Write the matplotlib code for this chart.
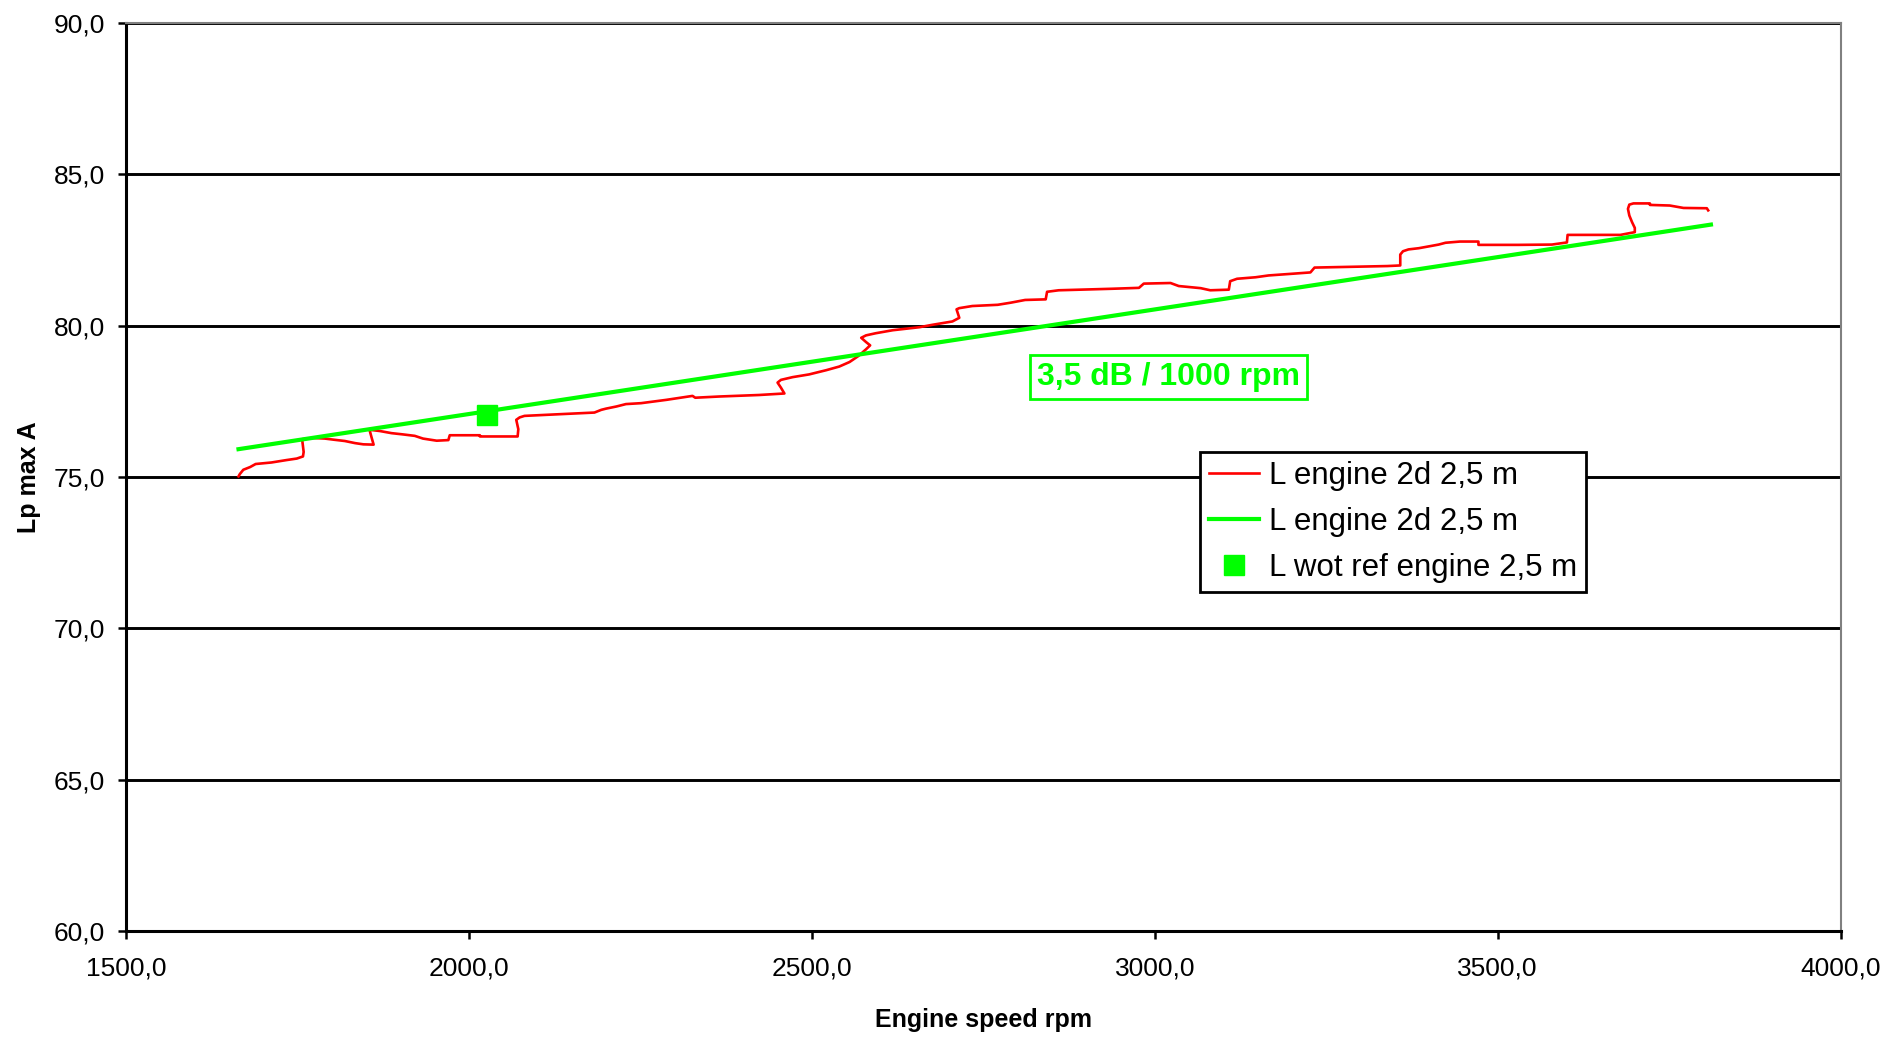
import matplotlib.pyplot as plt
from matplotlib.ticker import FuncFormatter, MultipleLocator

plt.rcParams['font.family'] = ['Liberation Sans', 'DejaVu Sans']

# measured level vs engine speed (red trace, drawn in recorded order)
red_rpm = [1664, 1666, 1671, 1681, 1689, 1712, 1734, 1749, 1758, 1759, 1757, 1757,
           1773, 1790, 1804, 1819, 1834, 1846, 1861, 1858, 1855, 1870, 1887, 1903,
           1921, 1933, 1953, 1970, 1972, 2016, 2016, 2071, 2072, 2069, 2074, 2081,
           2127, 2183, 2193, 2200, 2215, 2229, 2251, 2288, 2326, 2330, 2365, 2423,
           2460, 2455, 2450, 2455, 2472, 2496, 2521, 2540, 2555, 2568, 2579, 2585,
           2579, 2572, 2579, 2593, 2618, 2657, 2676, 2705, 2715, 2711, 2715, 2734,
           2771, 2790, 2811, 2841, 2843, 2860, 2938, 2977, 2984, 3023, 3035, 3067,
           3081, 3108, 3110, 3120, 3147, 3166, 3203, 3227, 3233, 3339, 3358, 3358,
           3362, 3370, 3385, 3402, 3414, 3424, 3445, 3472, 3472, 3530, 3579, 3601,
           3602, 3628, 3679, 3700, 3700, 3696, 3692, 3690, 3692, 3698, 3722, 3722,
           3751, 3771, 3805, 3807]
red_lp = [75.02, 75.10, 75.24, 75.33, 75.43, 75.48, 75.56, 75.61, 75.68, 75.83, 76.20, 76.25,
          76.29, 76.27, 76.23, 76.19, 76.12, 76.08, 76.07, 76.31, 76.56, 76.52, 76.45, 76.41,
          76.36, 76.27, 76.20, 76.22, 76.38, 76.38, 76.34, 76.34, 76.58, 76.89, 76.97, 77.02,
          77.07, 77.13, 77.22, 77.26, 77.33, 77.41, 77.44, 77.55, 77.68, 77.62, 77.66, 77.71,
          77.76, 77.95, 78.12, 78.21, 78.30, 78.39, 78.53, 78.65, 78.80, 79.00, 79.22, 79.35,
          79.46, 79.60, 79.68, 79.75, 79.85, 79.95, 80.03, 80.14, 80.26, 80.54, 80.58, 80.65,
          80.69, 80.76, 80.85, 80.87, 81.12, 81.17, 81.22, 81.25, 81.39, 81.41, 81.31, 81.24,
          81.17, 81.19, 81.47, 81.55, 81.60, 81.66, 81.72, 81.76, 81.92, 81.97, 81.99, 82.35,
          82.46, 82.52, 82.56, 82.63, 82.68, 82.74, 82.78, 82.78, 82.67, 82.67, 82.68, 82.75,
          83.00, 83.00, 83.00, 83.09, 83.23, 83.42, 83.64, 83.86, 84.00, 84.04, 84.04, 83.99,
          83.97, 83.89, 83.88, 83.81]

# fitted trend (green)
green_rpm = [1664, 3811]
green_lp = [75.92, 83.34]

# reference point
ref_rpm = [2027]
ref_lp = [77.06]

label_red = 'L engine 2d 2,5 m'
label_green = 'L engine 2d 2,5 m'
label_ref = 'L wot ref engine 2,5 m'
slope_text = '3,5 dB / 1000 rpm'

fig = plt.figure(figsize=(19.01, 10.37), dpi=100)
ax = fig.add_axes([0.0663, 0.1022, 0.9019, 0.8756])

ax.set_xlim(1500, 4000)
ax.set_ylim(60, 90)
ax.xaxis.set_major_locator(MultipleLocator(500))
ax.yaxis.set_major_locator(MultipleLocator(5))
fmt = FuncFormatter(lambda v, p: f'{v:.1f}'.replace('.', ','))
ax.xaxis.set_major_formatter(fmt)
ax.yaxis.set_major_formatter(fmt)

ax.yaxis.grid(True, color='black', linewidth=2.1)
ax.set_axisbelow(True)

for s in ['left', 'bottom']:
    ax.spines[s].set_color('black')
    ax.spines[s].set_linewidth(2.2)
for s in ['top', 'right']:
    ax.spines[s].set_color('#808080')
    ax.spines[s].set_linewidth(1.5)

ax.tick_params(axis='both', direction='out', length=6, width=1.8, labelsize=19, colors='black')
ax.tick_params(axis='x', pad=12)
ax.tick_params(axis='y', pad=9)

ax.plot(red_rpm, red_lp, color='#ff0000', linewidth=1.9, label=label_red, zorder=3)
ax.plot(green_rpm, green_lp, color='#00ff00', linewidth=3, label=label_green, zorder=4)
ax.plot(ref_rpm, ref_lp, linestyle='none', marker='s', markersize=14, color='#00ff00',
        label=label_ref, zorder=5)

ax.text(3020, 78.3, slope_text, color='#00ff00', fontsize=23, fontweight='bold',
        ha='center', va='center',
        bbox=dict(boxstyle='square,pad=0.22', facecolor='white', edgecolor='#00ff00', linewidth=2))

leg = ax.legend(loc='upper left', bbox_to_anchor=(0.6264, 0.5275), fontsize=22.5,
                frameon=True, fancybox=False, edgecolor='black', framealpha=1,
                handlelength=1.6, handletextpad=0.3, labelspacing=0.5, borderpad=0.3,
                borderaxespad=0)
leg.get_frame().set_linewidth(2)
leg.set_zorder(10)

ax.set_xlabel('Engine speed rpm', fontsize=18, fontweight='bold', labelpad=20)
ax.set_ylabel('Lp max A', fontsize=18, fontweight='bold', labelpad=9)

fig.savefig('out.png', dpi=100, facecolor='white')
